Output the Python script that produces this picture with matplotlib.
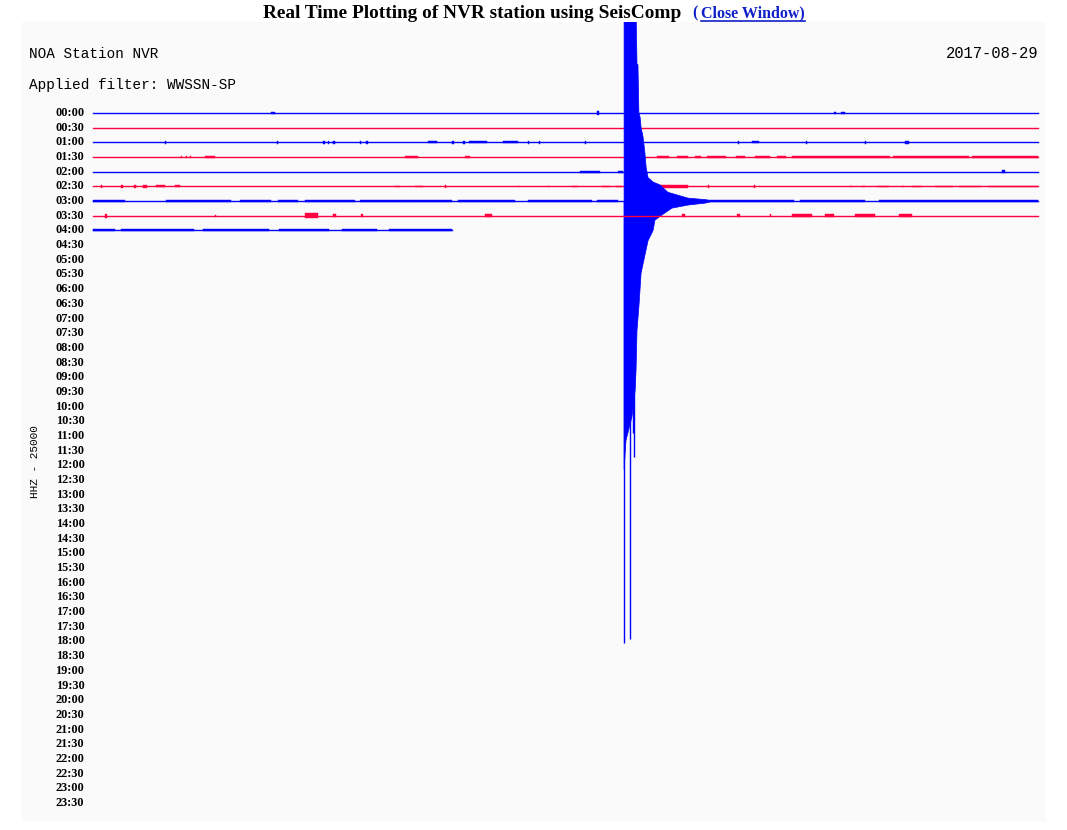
import matplotlib
matplotlib.use("Agg")
import matplotlib.pyplot as plt
from matplotlib.lines import Line2D

station = "NOA Station NVR"
filter_name = "Applied filter: WWSSN-SP"
day = "2017-08-29"
channel = "HHZ - 25000"
row_labels = ["%02d:%02d" % (h, m) for h in range(24) for m in (0, 30)]

# minutos registrados en cada fila de 30 min (solo las filas con datos)
row_length = [30, 30, 30, 30, 30, 30, 30, 30, 11.4]

# tramos con ruido por fila: (inicio min, fin min, amplitud en filas)
noise = {
    0: [(5.65, 5.78, 0.06), (16.0, 16.05, 0.12), (23.52, 23.6, 0.06), (23.75, 23.87, 0.06)],
    1: [],
    2: [(2.29, 2.33, 0.1), (5.84, 5.88, 0.1), (7.30, 7.36, 0.08), (7.45, 7.5, 0.08),
        (7.62, 7.68, 0.08), (8.48, 8.52, 0.08), (8.68, 8.73, 0.08), (10.63, 10.92, 0.06),
        (11.40, 11.45, 0.08), (11.75, 11.8, 0.08), (11.95, 12.51, 0.06), (13.02, 13.49, 0.07),
        (13.81, 13.85, 0.08), (14.15, 14.19, 0.08), (15.62, 15.66, 0.08), (20.48, 20.52, 0.1),
        (20.92, 21.14, 0.06), (22.63, 22.67, 0.1), (24.51, 24.55, 0.1), (25.78, 25.90, 0.08)],
    3: [(2.79, 2.83, 0.08), (2.95, 2.99, 0.08), (3.07, 3.11, 0.08), (3.56, 3.87, 0.07),
        (9.9, 10.32, 0.06), (11.81, 11.97, 0.07), (17.9, 18.3, 0.06), (18.55, 18.9, 0.06),
        (19.1, 19.3, 0.06), (19.5, 20.1, 0.06), (20.4, 20.7, 0.06), (21.0, 21.5, 0.06),
        (21.7, 22.0, 0.06), (22.2, 25.3, 0.065), (25.4, 27.8, 0.065), (27.9, 30.0, 0.065)],
    4: [(15.46, 16.10, 0.08), (16.67, 16.83, 0.06), (28.86, 28.94, 0.12)],
    5: [(0.25, 0.3, 0.08), (0.9, 0.95, 0.08), (1.3, 1.35, 0.08), (1.6, 1.7, 0.08),
        (2.0, 2.3, 0.07), (2.6, 2.76, 0.07), (9.59, 9.75, 0.06), (10.22, 10.48, 0.06),
        (11.17, 11.21, 0.08), (13.49, 13.53, 0.06), (14.44, 14.48, 0.06), (15.21, 15.40, 0.06),
        (16.16, 16.4, 0.06), (16.6, 16.79, 0.06), (18.0, 18.89, 0.08), (19.52, 19.56, 0.08),
        (20.98, 21.02, 0.08), (24.03, 24.1, 0.06), (24.4, 24.5, 0.06), (24.9, 25.27, 0.06),
        (25.68, 25.75, 0.06), (26.0, 26.32, 0.06), (26.73, 27.3, 0.06), (27.5, 28.2, 0.06),
        (28.4, 30.0, 0.06)],
    6: [(0.0, 1.02, 0.07), (2.32, 3.02, 0.06), (3.02, 4.38, 0.075), (4.67, 5.65, 0.07),
        (5.87, 6.51, 0.07), (6.73, 8.32, 0.075), (8.48, 10.0, 0.075), (10.0, 11.4, 0.07),
        (11.59, 13.4, 0.07), (13.81, 15.84, 0.07), (16.0, 16.67, 0.06), (19.6, 22.25, 0.07),
        (22.44, 24.51, 0.07), (24.95, 30.0, 0.075)],
    7: [(0.38, 0.45, 0.12), (3.87, 3.91, 0.07), (6.73, 7.14, 0.16), (7.62, 7.71, 0.1),
        (8.51, 8.56, 0.1), (12.44, 12.67, 0.1), (18.7, 18.79, 0.1), (20.44, 20.54, 0.1),
        (21.49, 21.53, 0.1), (22.19, 22.83, 0.1), (23.24, 23.52, 0.1), (24.19, 24.83, 0.1),
        (25.59, 26.0, 0.1)],
    8: [(0.0, 0.7, 0.07), (0.9, 3.2, 0.07), (3.5, 5.6, 0.07), (5.9, 7.5, 0.07),
        (7.9, 9.0, 0.07), (9.4, 11.4, 0.07)],
}

# terremoto en la fila de las 03:00 (envolvente en filas, positivo = hacia arriba)
quake_row = 6
env_up_t = [16.86, 17.24, 17.27, 17.30, 17.33, 17.37, 17.40, 17.46, 17.52, 17.56, 17.62,
            17.78, 18.00, 18.25, 18.57, 18.89, 19.43, 19.6]
env_up = [13.0, 13.0, 9.3, 9.3, 6.0, 5.7, 5.0, 4.4, 3.3, 2.3, 1.6, 1.3, 1.1, 0.6, 0.4, 0.2, 0.1, 0.05]
env_dn_t = [16.86, 16.92, 17.11, 17.21, 17.24, 17.27, 17.33, 17.40, 17.62, 17.78, 17.84,
            18.06, 18.38, 18.89, 19.43, 19.6]
env_dn = [-18.3, -16.3, -14.7, -12.9, -11.5, -8.8, -7.2, -4.9, -2.7, -2.0, -1.3, -0.95,
          -0.48, -0.27, -0.14, -0.05]
spike_t = [16.86, 17.05, 17.17, 17.14, 17.02]
spike_amp = [-30.1, -29.8, -17.4, -15.8, -14.6]

blue = "#0000ff"
red = "#ff0040"

fig = plt.figure(figsize=(10.67, 8.30), dpi=100)
W, H = 1067.0, 830.0

ax = fig.add_axes([22 / W, 1 - 822 / H, 1024 / W, 800 / H])
ax.set_facecolor("#fafafa")
for s in ax.spines.values():
    s.set_visible(False)
ax.set_xticks([])
ax.set_yticks([])
ax.set_xlim((22 - 93) / 31.5, (1046 - 93) / 31.5)
ax.set_ylim((822 - 113) / 14.68, (22 - 113) / 14.68)

for i, length in enumerate(row_length):
    c = blue if i % 2 == 0 else red
    ax.plot([0, length], [i, i], color=c, lw=1.0, zorder=i + 1)
    for t0, t1, a in noise[i]:
        ax.fill_between([t0, t1], i - a, i + a, color=c, lw=0.3, zorder=i + 1)

# sismo
poly_t = env_up_t + env_dn_t[::-1]
poly_y = [quake_row - v for v in env_up] + [quake_row - v for v in env_dn[::-1]]
ax.fill(poly_t, poly_y, color=blue, lw=0.5, zorder=quake_row + 1.5)
ax.vlines(spike_t, quake_row, [quake_row - v for v in spike_amp], color=blue, lw=1.0,
          zorder=quake_row + 1.5)

for i, lab in enumerate(row_labels):
    ax.text(-0.27, i, lab, ha="right", va="center", fontsize=8.8, weight="bold",
            family="Liberation Serif", color="black")

# textos
mono = "Liberation Mono"
fig.text(29 / W, 1 - 54 / H, station, ha="left", va="center", fontsize=10.4, family=mono)
fig.text(29 / W, 1 - 85 / H, filter_name, ha="left", va="center", fontsize=10.4, family=mono)
fig.text(1038 / W, 1 - 54 / H, day, ha="right", va="center", fontsize=11.2, family=mono)
fig.text(35 / W, 1 - 462 / H, channel, ha="center", va="center", rotation=90,
         fontsize=8, family=mono)

fig.text(263 / W, 1 - 13 / H, "Real Time Plotting of NVR station using SeisComp",
         ha="left", va="center", fontsize=13.9, weight="bold", family="Liberation Serif")
link = "#1020c8"
fig.text(692 / W, 1 - 13 / H, "(", ha="left", va="center", fontsize=11.5, weight="bold",
         family="Liberation Serif", color=link)
fig.text(701 / W, 1 - 13 / H, "Close Window)", ha="left", va="center", fontsize=11.5,
         weight="bold", family="Liberation Serif", color=link)
fig.add_artist(Line2D([701 / W, 805 / W], [1 - 21 / H, 1 - 21 / H], color=link, lw=1.2))

fig.savefig("out.png", dpi=100)
